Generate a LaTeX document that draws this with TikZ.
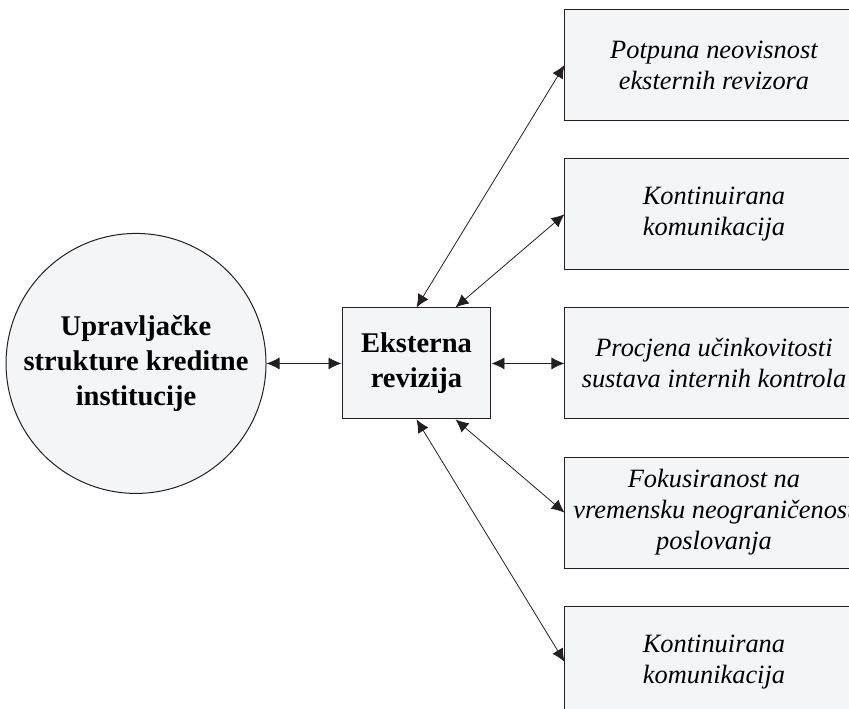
\documentclass[tikz,border=0pt]{standalone}
\usepackage{fontspec}
\setmainfont{Liberation Serif}
\usetikzlibrary{positioning,arrows.meta}
\definecolor{boxfill}{RGB}{244,245,247}
\definecolor{edgegray}{RGB}{35,31,32}

\begin{document}
\begin{tikzpicture}[
    >={Latex[length=9.75pt,width=9pt]},
    frame/.style={draw=edgegray, line width=0.75pt, fill=boxfill, align=center, inner sep=0pt},
    mainbox/.style={frame, minimum width=111.75pt, minimum height=83.25pt,
      font=\fontsize{21.4}{26.25}\selectfont\bfseries},
    sidebox/.style={frame, minimum width=223.5pt, minimum height=83.25pt,
      font=\fontsize{19.8}{23.25}\selectfont\itshape},
    link/.style={<->, draw=edgegray, line width=0.6pt}
  ]
  \useasboundingbox (-312.4pt,-259.1pt) rectangle (324.4pt,272.6pt);
  \clip (-312.4pt,-259.1pt) rectangle (324.4pt,272.6pt);

  \node [mainbox] (E) {Eksterna\\revizija};
  \node [mainbox, circle, minimum size=195pt, left=56.25pt of E] (U) {Upravljačke\\strukture kreditne\\institucije};

  \node [sidebox, right=54.75pt of E] (PR) {Procjena učinkovitosti\\sustava internih kontrola};
  \node [sidebox, above=27.9pt of PR] (K1) {Kontinuirana\\komunikacija};
  \node [sidebox, above=27.9pt of K1] (P) {Potpuna neovisnost\\eksternih revizora};
  \node [sidebox, below=27.9pt of PR] (F) {Fokusiranost na\\vremensku neograničenost\\poslovanja};
  \node [sidebox, below=27.9pt of F] (K2) {Kontinuirana\\komunikacija};

  \draw [link] (U) -- (E);
  \draw [link] (E) -- (PR);
  \draw [link] (E.north) -- (P.west);
  \draw [link] ([xshift=-27pt]E.north east) -- (K1.west);
  \draw [link] ([xshift=-27pt]E.south east) -- (F.west);
  \draw [link] (E.south) -- (K2.west);
\end{tikzpicture}
\end{document}
